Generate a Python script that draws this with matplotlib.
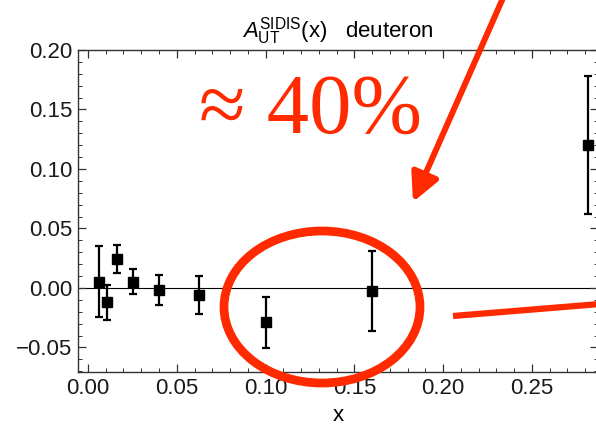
import matplotlib
matplotlib.use("Agg")
import matplotlib.pyplot as plt
from matplotlib.patches import Ellipse, FancyArrowPatch
from matplotlib.lines import Line2D
from matplotlib.ticker import MultipleLocator, FuncFormatter

# data
x_vals = [0.0062, 0.0105, 0.0161, 0.0253, 0.0398, 0.0625, 0.1000, 0.1597, 0.2813]
a_vals = [0.0053, -0.0120, 0.0240, 0.0053, -0.0014, -0.0059, -0.0290, -0.0023, 0.1200]
a_errs = [0.0300, 0.0145, 0.0118, 0.0107, 0.0127, 0.0157, 0.0215, 0.0337, 0.0580]
x_ticks = [0.00, 0.05, 0.10, 0.15, 0.20, 0.25]
y_ticks = [-0.05, 0.00, 0.05, 0.10, 0.15, 0.20]

RED = "#ff2a00"
W, H = 596, 425

plt.rcParams["font.family"] = ["Liberation Sans", "DejaVu Sans"]
plt.rcParams["mathtext.fontset"] = "custom"
plt.rcParams["mathtext.rm"] = "Liberation Sans"
plt.rcParams["mathtext.it"] = "Liberation Sans:italic"

fig = plt.figure(figsize=(W / 100, H / 100), dpi=100)
ax = fig.add_axes([78 / W, 1 - 372 / H, (598 - 78) / W, (372 - 50) / H])

ax.axhline(0, color="black", lw=0.8, zorder=1)
ax.errorbar(x_vals, a_vals, yerr=a_errs, fmt="s", color="black", ms=7,
            elinewidth=1.6, capsize=3.2, capthick=1.6, zorder=3)

fmt = FuncFormatter(lambda v, pos: f"{v:.2f}".replace("-", "\u2212"))
ax.set_xlim(-0.0056, 0.2872)
ax.set_ylim(-0.0706, 0.2)
ax.set_xticks(x_ticks)
ax.set_yticks(y_ticks)
ax.xaxis.set_minor_locator(MultipleLocator(0.01))
ax.yaxis.set_minor_locator(MultipleLocator(0.01))
ax.xaxis.set_major_formatter(fmt)
ax.yaxis.set_major_formatter(fmt)
ax.tick_params(which="both", direction="in", top=True, right=True,
               labelsize=16, color="#333333", labelcolor="#1a1a1a")
ax.tick_params(axis="y", pad=4)
ax.tick_params(axis="x", pad=4)
ax.tick_params(which="major", length=6, width=0.9)
ax.tick_params(which="minor", length=3, width=0.7)
for s in ax.spines.values():
    s.set_color("#333333")
    s.set_linewidth(1.0)

ax.set_xlabel("x", fontsize=16, labelpad=4.5)
ax.set_title(r"$A^{\rm SIDIS}_{\rm UT}$(x)   deuteron", fontsize=16, pad=9)


def fx(px, py):
    return px / W, 1 - py / H


# red annotations drawn over the figure
fig.text(*fx(199, 133), "\u2248 40%", color=RED, fontsize=61,
         family=["Liberation Serif", "DejaVu Serif"], ha="left", va="baseline")

ell = Ellipse(fx(322, 307), width=196 / W, height=152 / H,
              transform=fig.transFigure, fill=False, ec=RED, lw=6.3, zorder=5)
fig.patches.append(ell)

arr = FancyArrowPatch(fx(503, -2), fx(413, 202), transform=fig.transFigure,
                      arrowstyle="-|>,head_length=17,head_width=8.6", color=RED,
                      lw=4.3, mutation_scale=1, shrinkA=0, shrinkB=0)
fig.patches.append(arr)

x0, y0 = fx(453, 316)
x1, y1 = fx(600, 304)
fig.lines.append(Line2D([x0, x1], [y0, y1], transform=fig.transFigure,
                        color=RED, lw=4.5, solid_capstyle="butt"))

fig.savefig("out.png", dpi=100)
